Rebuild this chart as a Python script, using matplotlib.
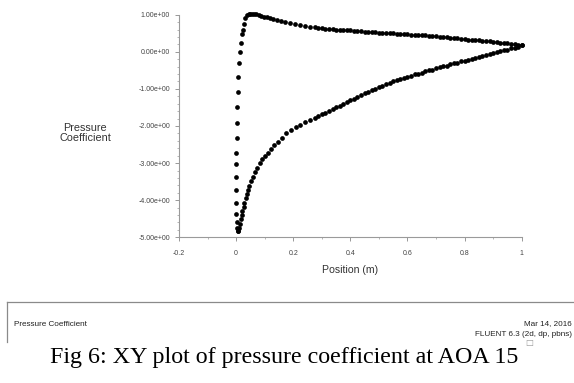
import matplotlib
matplotlib.use("Agg")
import matplotlib.pyplot as plt
from matplotlib.lines import Line2D
from matplotlib.ticker import MultipleLocator

# leading edge: stagnation point round the nose down to the suction peak
le_x = [0.032, 0.027, 0.023, 0.021, 0.018, 0.014, 0.009, 0.007, 0.005, 0.004,
        0.002, 0.002, 0.001, 0.000, 0.000, 0.000, 0.000, 0.001, 0.002, 0.003, 0.005]
le_cp = [0.90, 0.76, 0.60, 0.48, 0.24, 0.00, -0.30, -0.68, -1.08, -1.49,
         -1.92, -2.32, -2.73, -3.02, -3.37, -3.73, -4.08, -4.37, -4.60, -4.75, -4.84]

# suction side, suction peak to trailing edge
ss_x = [0.007, 0.010, 0.013, 0.016, 0.019, 0.022, 0.026, 0.029, 0.033, 0.037,
        0.041, 0.046, 0.052, 0.058, 0.065, 0.073, 0.082, 0.091, 0.100, 0.110,
        0.121, 0.133, 0.145, 0.160, 0.176, 0.192, 0.208, 0.225, 0.242, 0.259, 0.276,
        0.2875, 0.3000, 0.3125, 0.3250, 0.3375, 0.3500, 0.3625, 0.3750, 0.3875, 0.4000,
        0.4125, 0.4250, 0.4375, 0.4500, 0.4625, 0.4750, 0.4875, 0.5000, 0.5125, 0.5250,
        0.5375, 0.5500, 0.5625, 0.5750, 0.5875, 0.6000, 0.6125, 0.6250, 0.6375, 0.6500,
        0.6625, 0.6750, 0.6875, 0.7000, 0.7125, 0.7250, 0.7375, 0.7500, 0.7625, 0.7750,
        0.7875, 0.8000, 0.8125, 0.8250, 0.8375, 0.8500, 0.8625, 0.8750, 0.8875, 0.9000,
        0.9125, 0.9250, 0.9375, 0.9500, 0.9625, 0.9750, 0.9875, 1.0000]
ss_cp = [-4.82, -4.74, -4.63, -4.51, -4.40, -4.29, -4.17, -4.07, -3.95, -3.84,
         -3.73, -3.61, -3.49, -3.37, -3.25, -3.12, -3.00, -2.90, -2.81, -2.72,
         -2.63, -2.52, -2.42, -2.31, -2.20, -2.10, -2.02, -1.96, -1.90, -1.85, -1.79,
         -1.73, -1.68, -1.64, -1.59, -1.55, -1.50, -1.45, -1.41, -1.36, -1.31,
         -1.26, -1.22, -1.17, -1.12, -1.08, -1.04, -0.99, -0.95, -0.91, -0.88,
         -0.84, -0.80, -0.77, -0.74, -0.70, -0.67, -0.64, -0.61, -0.59, -0.56,
         -0.53, -0.50, -0.48, -0.45, -0.42, -0.39, -0.37, -0.34, -0.31, -0.29,
         -0.26, -0.24, -0.21, -0.19, -0.16, -0.14, -0.11, -0.09, -0.06, -0.04,
         -0.01, 0.01, 0.04, 0.06, 0.09, 0.11, 0.14, 0.17]

# pressure side, stagnation point to trailing edge
ps_x = [0.039, 0.044, 0.050, 0.057, 0.064, 0.071, 0.079, 0.088, 0.097, 0.107,
        0.118, 0.130, 0.143, 0.157, 0.172, 0.188, 0.205, 0.222, 0.240, 0.258, 0.276,
        0.2875, 0.3000, 0.3125, 0.3250, 0.3375, 0.3500, 0.3625, 0.3750, 0.3875, 0.4000,
        0.4125, 0.4250, 0.4375, 0.4500, 0.4625, 0.4750, 0.4875, 0.5000, 0.5125, 0.5250,
        0.5375, 0.5500, 0.5625, 0.5750, 0.5875, 0.6000, 0.6125, 0.6250, 0.6375, 0.6500,
        0.6625, 0.6750, 0.6875, 0.7000, 0.7125, 0.7250, 0.7375, 0.7500, 0.7625, 0.7750,
        0.7875, 0.8000, 0.8125, 0.8250, 0.8375, 0.8500, 0.8625, 0.8750, 0.8875, 0.9000,
        0.9125, 0.9250, 0.9375, 0.9500, 0.9625, 0.9750, 0.9875, 1.0000]
ps_cp = [1.00, 1.02, 1.03, 1.03, 1.02, 1.01, 0.99, 0.97, 0.95, 0.93,
         0.90, 0.88, 0.85, 0.82, 0.79, 0.77, 0.74, 0.72, 0.70, 0.68, 0.66,
         0.64, 0.63, 0.62, 0.615, 0.61, 0.60, 0.595, 0.585, 0.58, 0.575,
         0.57, 0.56, 0.555, 0.545, 0.54, 0.535, 0.53, 0.52, 0.515, 0.51,
         0.505, 0.495, 0.49, 0.485, 0.475, 0.47, 0.465, 0.46, 0.45, 0.445,
         0.44, 0.43, 0.425, 0.415, 0.405, 0.395, 0.39, 0.38, 0.37, 0.36,
         0.35, 0.34, 0.33, 0.325, 0.315, 0.305, 0.295, 0.29, 0.28, 0.27,
         0.26, 0.25, 0.24, 0.23, 0.215, 0.20, 0.185, 0.17]

yticks = [1, 0, -1, -2, -3, -4, -5]
ytick_labels = ["1.00e+00", "0.00e+00", "-1.00e+00", "-2.00e+00",
                "-3.00e+00", "-4.00e+00", "-5.00e+00"]
xticks = [-0.2, 0, 0.2, 0.4, 0.6, 0.8, 1]
xtick_labels = ["-0.2", "0", "0.2", "0.4", "0.6", "0.8", "1"]

W, H = 574, 383
fig = plt.figure(figsize=(W / 100, H / 100), dpi=100)
ax = fig.add_axes([179 / W, 1 - 237.3 / H, (521.7 - 179) / W, (237.3 - 14.7) / H])

for xs, ys in [(le_x, le_cp), (ss_x, ss_cp), (ps_x, ps_cp)]:
    ax.plot(xs, ys, linestyle="none", marker="o", ms=3.4, color="black",
            markeredgewidth=0, clip_on=False)

ax.set_xlim(-0.2, 1)
ax.set_ylim(-5, 1)
for s in ["top", "right"]:
    ax.spines[s].set_visible(False)
for s in ["left", "bottom"]:
    ax.spines[s].set_color("#9a9a9a")
    ax.spines[s].set_linewidth(0.8)

ax.set_yticks(yticks)
ax.set_yticklabels(ytick_labels)
ax.set_xticks(xticks)
ax.set_xticklabels(xtick_labels)
ax.yaxis.set_minor_locator(MultipleLocator(0.2))
ax.xaxis.set_minor_locator(MultipleLocator(0.1))
ax.tick_params(which="major", length=3, width=0.6, color="#888888",
               labelsize=5.0, labelcolor="#444444")
ax.tick_params(which="minor", length=1.5, width=0.5, color="#999999")
ax.tick_params(axis="y", which="major", pad=3.5)
ax.tick_params(axis="x", which="major", pad=6)
for lab in ax.get_xticklabels() + ax.get_yticklabels():
    lab.set_family("Liberation Sans")

fig.text(85 / W, 1 - 133 / H, "Pressure\nCoefficient", ha="center", va="center",
         fontsize=7.8, family="Liberation Sans", color="#333333", linespacing=1.0)
fig.text(350 / W, 1 - 270 / H, "Position (m)", ha="center", va="center",
         fontsize=7.6, family="Liberation Sans", color="#333333")

# title box along the bottom of the Fluent window
fig.add_artist(Line2D([7 / W, 1], [1 - 302 / H, 1 - 302 / H], color="#8a8a8a", lw=0.9))
fig.add_artist(Line2D([7 / W, 7 / W], [1 - 302 / H, 1 - 342 / H], color="#8a8a8a", lw=0.9))
fig.text(14 / W, 1 - 324 / H, "Pressure Coefficient", ha="left", va="center",
         fontsize=5.9, family="Liberation Sans", color="#222222")
fig.text(572 / W, 1 - 324 / H, "Mar 14, 2016", ha="right", va="center",
         fontsize=5.9, family="Liberation Sans", color="#222222")
fig.text(572 / W, 1 - 335 / H, "FLUENT 6.3 (2d, dp, pbns)", ha="right", va="center",
         fontsize=5.9, family="Liberation Sans", color="#222222")

fig.text(50 / W, 1 - 362.7 / H, "Fig 6: XY plot of pressure coefficient at AOA 15",
         ha="left", va="baseline", fontsize=17.3, family="Liberation Serif", color="black")
fig.text(525 / W, 1 - 343 / H, "\u25a1", ha="left", va="center",
         fontsize=6, family="DejaVu Sans", color="#999999")

fig.savefig("out.png", dpi=100)
